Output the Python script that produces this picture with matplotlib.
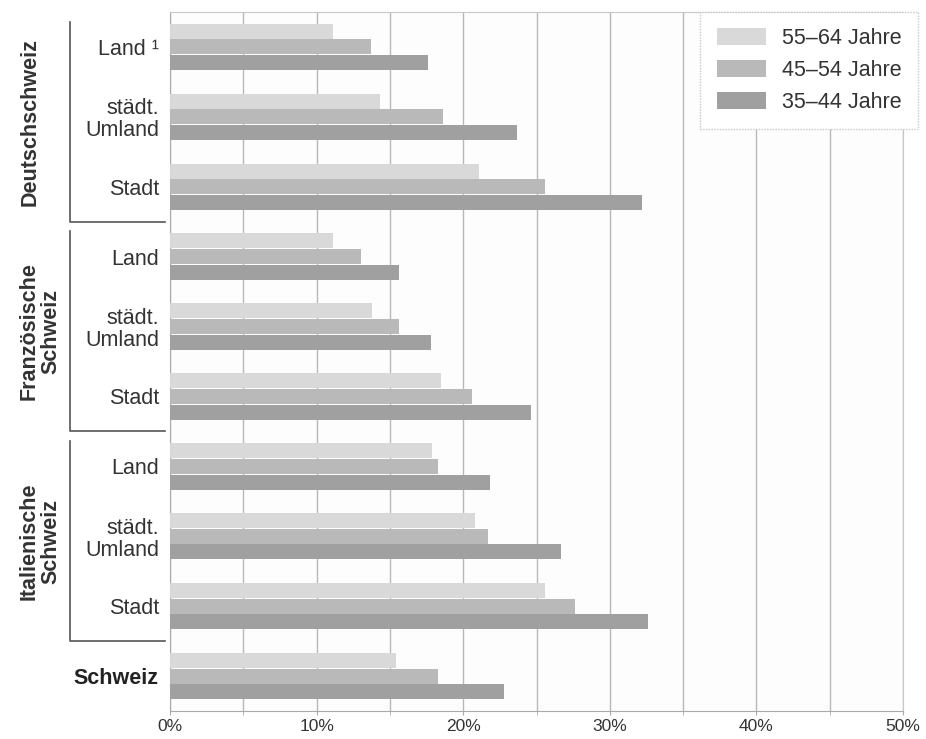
import matplotlib
matplotlib.use("Agg")
import matplotlib.pyplot as plt
import matplotlib.transforms as mtransforms
import numpy as np

plt.rcParams['font.family'] = ['Liberation Sans', 'DejaVu Sans']

categories = ["Land \u00b9", "st\u00e4dt.\nUmland", "Stadt",
              "Land", "st\u00e4dt.\nUmland", "Stadt",
              "Land", "st\u00e4dt.\nUmland", "Stadt",
              "Schweiz"]
series_names = ["55\u201364 Jahre", "45\u201354 Jahre", "35\u201344 Jahre"]
v_55_64 = [11.1, 14.3, 21.1, 11.1, 13.8, 18.5, 17.9, 20.8, 25.6, 15.4]
v_45_54 = [13.7, 18.6, 25.6, 13.0, 15.6, 20.6, 18.3, 21.7, 27.6, 18.3]
v_35_44 = [17.6, 23.7, 32.2, 15.6, 17.8, 24.6, 21.8, 26.7, 32.6, 22.8]
groups = [("Deutschschweiz", 0, 2), ("Franz\u00f6sische\nSchweiz", 3, 5),
          ("Italienische\nSchweiz", 6, 8)]
xticks = [0, 10, 20, 30, 40, 50]

colors = ["#d9d9d9", "#b9b9b9", "#a0a0a0"]

fig = plt.figure(figsize=(9.26, 7.39), dpi=100)
ax = fig.add_axes([170/926, 28/739, 733/926, 699/739])
ax.set_facecolor("#fdfdfd")

y = np.arange(len(categories))
h = 0.215
offs = [-0.225, 0.0, 0.225]
for vals, c, off, name in zip([v_55_64, v_45_54, v_35_44], colors, offs, series_names):
    ax.barh(y + off, vals, height=h, color=c, edgecolor='none', label=name, zorder=3)

ax.set_xlim(0, 50)
ax.set_ylim(9.5, -0.5)
ax.set_xticks(xticks)
ax.set_xticks(np.arange(5, 50, 10), minor=True)
ax.set_xticklabels([f"{t}%" for t in xticks], fontsize=12.5, color="#333333")
ax.tick_params(axis='x', which='both', length=3, color="#aaaaaa", pad=3)
ax.grid(axis='x', which='both', color="#b8b8b8", linewidth=1, zorder=0)

ax.set_yticks(y)
labels = ax.set_yticklabels(categories, fontsize=15.5, color="#333333", ha='right',
                            multialignment='right', linespacing=1.05)
labels[-1].set_fontweight('bold')
labels[-1].set_color("#222222")
ax.tick_params(axis='y', length=0, pad=8)

for s in ['top', 'right']:
    ax.spines[s].set_color("#c8c8c8")
    ax.spines[s].set_linestyle((0, (1, 1)))
ax.spines['left'].set_color("#aaaaaa")
ax.spines['bottom'].set_color("#aaaaaa")

trans = mtransforms.blended_transform_factory(ax.transAxes, ax.transData)
xl = (70 - 170) / 733
xr = (165 - 170) / 733
for name, a, b in groups:
    y0, y1 = a - 0.36, b + 0.5
    ax.plot([xl, xl, xr], [y0, y1, y1], color="#555555", lw=1.2,
            transform=trans, clip_on=False)
    xtxt = (30 - 170) / 733 if "\n" not in name else (40 - 170) / 733
    ax.text(xtxt, (y0 + y1) / 2, name, rotation=90, ha='center', va='center',
            fontsize=15.5, fontweight='bold', color="#333333",
            transform=trans, linespacing=1.0)

leg = ax.legend(loc='upper right', bbox_to_anchor=(1.0205, 1.0), fontsize=15.5,
                handlelength=2.3, handleheight=0.85, labelspacing=0.5,
                borderpad=0.75, handletextpad=0.75, borderaxespad=0.0,
                fancybox=False, framealpha=1, facecolor="white")
leg.get_frame().set_edgecolor("#c8c8c8")
leg.get_frame().set_linestyle((0, (1, 1)))
for t in leg.get_texts():
    t.set_color("#333333")

fig.savefig("out.png", dpi=100)
